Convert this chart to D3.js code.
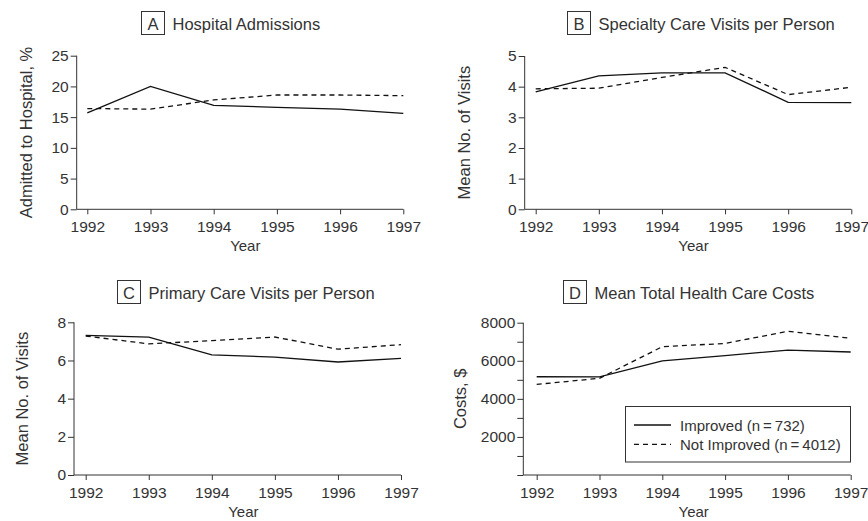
<!DOCTYPE html>
<html>
<head>
<meta charset="utf-8">
<script src="https://cdn.jsdelivr.net/npm/d3@7"></script>
<style>
  body { margin: 0; background: #fff; }
  svg text { font-family: "Liberation Sans", Arial, Helvetica, sans-serif; fill: #333; }
  .axis path, .axis line { stroke: #333; stroke-width: 1; }
  .axis text { font-size: 15.5px; }
  .series { fill: none; stroke: #111; stroke-width: 1.3; }
</style>
</head>
<body>
<div id="chart"></div>
<script>
// data
const years = [1992, 1993, 1994, 1995, 1996, 1997];

const admitImproved = [15.7, 20.0, 16.9, 16.6, 16.3, 15.6];
const admitNotImproved = [16.4, 16.3, 17.8, 18.6, 18.6, 18.5];

const specialtyImproved = [3.83, 4.35, 4.45, 4.45, 3.49, 3.48];
const specialtyNotImproved = [3.93, 3.95, 4.3, 4.63, 3.74, 3.98];

const primaryImproved = [7.32, 7.22, 6.29, 6.18, 5.92, 6.11];
const primaryNotImproved = [7.28, 6.87, 7.04, 7.23, 6.59, 6.83];

const costImproved = [5160, 5150, 5990, 6270, 6560, 6460];
const costNotImproved = [4760, 5080, 6740, 6910, 7550, 7180];

const legendLabels = ["Improved (n\u2009=\u2009732)", "Not Improved (n\u2009=\u20094012)"];

class LinePanel {

    constructor(svg, opts) {
        this.svg = svg;
        this.opts = opts;
        this.initVis();
    }

    initVis() {
        let vis = this;
        let o = vis.opts;

        vis.g = vis.svg.append("g");

        vis.x = d3.scaleLinear()
            .domain([years[0], years[years.length - 1]])
            .range([o.x0, o.x1]);

        vis.y = d3.scaleLinear()
            .domain(o.yDomain)
            .range([o.yBottom, o.yTop]);

        // x axis
        let xAxis = vis.g.append("g")
            .attr("class", "axis")
            .attr("transform", `translate(0, ${o.yBottom})`)
            .call(d3.axisBottom(vis.x).tickValues(years).tickFormat(d3.format("d")).tickSize(5).tickSizeOuter(0));
        xAxis.select(".domain").remove();
        xAxis.selectAll("text").attr("dy", "0.95em");
        vis.g.append("line")
            .attr("x1", o.axisX).attr("x2", o.x1)
            .attr("y1", o.yBottom).attr("y2", o.yBottom)
            .attr("stroke", "#333");

        // y axis
        let yAxis = vis.g.append("g")
            .attr("class", "axis")
            .attr("transform", `translate(${o.axisX}, 0)`)
            .call(d3.axisLeft(vis.y).tickValues(o.yTicks).tickFormat(d => o.yLabels.includes(d) ? d : "").tickSize(6).tickSizeOuter(0).tickPadding(2));
        yAxis.select(".domain").attr("d", `M0,${o.yBottom}V${o.yTop}`);

        // axis titles
        vis.g.append("text")
            .attr("x", (o.x0 + o.x1) / 2)
            .attr("y", o.yBottom + 42)
            .attr("text-anchor", "middle")
            .style("font-size", "15px")
            .text("Year");

        vis.g.append("text")
            .attr("transform", `translate(${o.yLabelX}, ${(o.yTop + o.yBottom) / 2}) rotate(-90)`)
            .attr("text-anchor", "middle")
            .style("font-size", "16.5px")
            .text(o.yLabel);

        // panel title with letter box
        vis.g.append("rect")
            .attr("x", o.titleX).attr("y", o.titleY)
            .attr("width", 23).attr("height", 23)
            .attr("fill", "none")
            .attr("stroke", "#333");
        vis.g.append("text")
            .attr("x", o.titleX + 11.5).attr("y", o.titleY + 18)
            .attr("text-anchor", "middle")
            .style("font-size", "16.5px")
            .text(o.letter);
        vis.g.append("text")
            .attr("x", o.titleX + 31).attr("y", o.titleY + 18)
            .style("font-size", "16.5px")
            .text(o.title);

        vis.updateVis();
    }

    updateVis() {
        let vis = this;

        let line = d3.line()
            .x((d, i) => vis.x(years[i]))
            .y(d => vis.y(d));

        vis.g.append("path")
            .datum(vis.opts.notImproved)
            .attr("class", "series")
            .attr("stroke-dasharray", "5,4")
            .attr("d", line);

        vis.g.append("path")
            .datum(vis.opts.improved)
            .attr("class", "series")
            .attr("d", line);
    }
}

let svg = d3.select("#chart").append("svg")
    .attr("width", 868)
    .attr("height", 521);

new LinePanel(svg, {
    letter: "A", title: "Hospital Admissions", titleX: 141.5, titleY: 11.5,
    x0: 87.3, x1: 403.3, axisX: 76.7, yTop: 55.7, yBottom: 209.3,
    yDomain: [0, 25], yTicks: [0, 5, 10, 15, 20, 25], yLabels: [0, 5, 10, 15, 20, 25],
    yLabel: "Admitted to Hospital, %", yLabelX: 32,
    improved: admitImproved, notImproved: admitNotImproved
});

new LinePanel(svg, {
    letter: "B", title: "Specialty Care Visits per Person", titleX: 567.5, titleY: 11.5,
    x0: 535.7, x1: 851.3, axisX: 524.7, yTop: 56, yBottom: 209.3,
    yDomain: [0, 5], yTicks: [0, 1, 2, 3, 4, 5], yLabels: [0, 1, 2, 3, 4, 5],
    yLabel: "Mean No. of Visits", yLabelX: 470,
    improved: specialtyImproved, notImproved: specialtyNotImproved
});

new LinePanel(svg, {
    letter: "C", title: "Primary Care Visits per Person", titleX: 117.5, titleY: 280.5,
    x0: 85.7, x1: 401, axisX: 74, yTop: 322.3, yBottom: 475,
    yDomain: [0, 8], yTicks: [0, 2, 4, 6, 8], yLabels: [0, 2, 4, 6, 8],
    yLabel: "Mean No. of Visits", yLabelX: 27.5,
    improved: primaryImproved, notImproved: primaryNotImproved
});

new LinePanel(svg, {
    letter: "D", title: "Mean Total Health Care Costs", titleX: 563.5, titleY: 280.5,
    x0: 536.7, x1: 850.7, axisX: 523.3, yTop: 322.7, yBottom: 475,
    yDomain: [0, 8000], yTicks: [0, 1000, 2000, 3000, 4000, 5000, 6000, 7000, 8000], yLabels: [2000, 4000, 6000, 8000],
    yLabel: "Costs, $", yLabelX: 466,
    improved: costImproved, notImproved: costNotImproved
});

// legend inside panel D
let legend = svg.append("g");
legend.append("rect")
    .attr("x", 625.5).attr("y", 406.5)
    .attr("width", 225).attr("height", 55.5)
    .attr("fill", "#fff")
    .attr("stroke", "#333");

legendLabels.forEach((label, i) => {
    let yy = 425 + i * 19.3;
    legend.append("line")
        .attr("class", "series")
        .attr("x1", 634).attr("x2", 671)
        .attr("y1", yy).attr("y2", yy)
        .attr("stroke-dasharray", i === 1 ? "5,4" : null);
    legend.append("text")
        .attr("x", 680).attr("y", yy + 5.5)
        .style("font-size", "15px")
        .text(label);
});
</script>
</body>
</html>
